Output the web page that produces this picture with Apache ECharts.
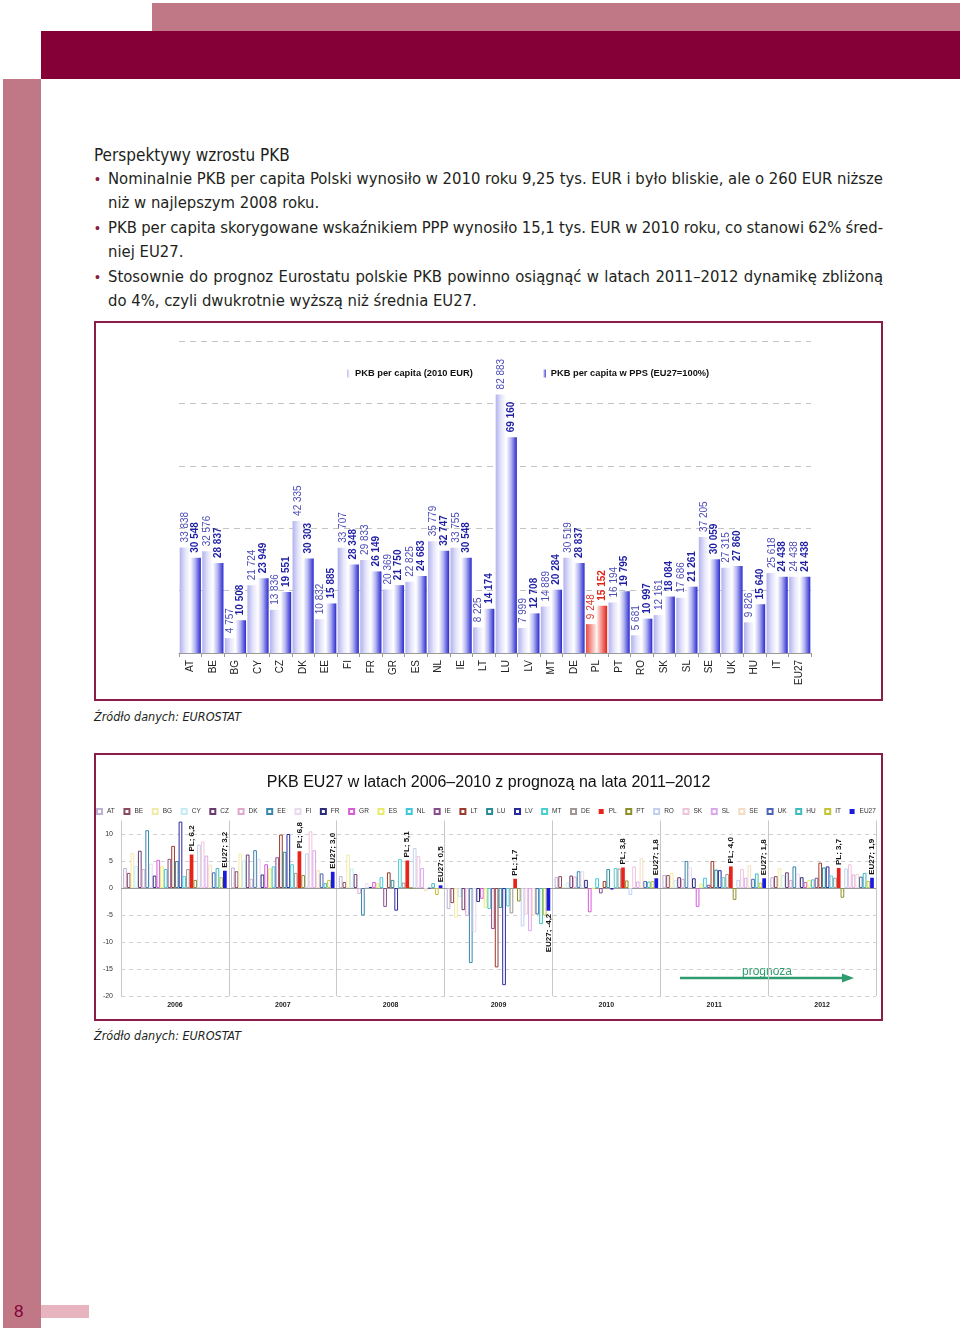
<!DOCTYPE html>
<html>
<head>
<meta charset="utf-8">
<script src="https://cdn.jsdelivr.net/npm/echarts@6/dist/echarts.min.js"></script>
<style>
  html, body { margin: 0; padding: 0; background: #fff; }
  body { position: relative; width: 960px; height: 1330px; overflow: hidden; }
  .blk { position: absolute; }
  .t { position: absolute; font-family: 'DejaVu Sans Condensed', 'Liberation Sans Narrow', sans-serif; color: #231f20; font-size: 16.5px; line-height: 24px; white-space: nowrap; }
  .bul { position: absolute; left: 95px; color: #8c1c3c; font-family: 'Liberation Sans', sans-serif; font-size: 14px; line-height: 24px; }
  .src { position: absolute; left: 94px; font-family: 'DejaVu Sans Condensed', sans-serif; font-style: italic; font-size: 12.5px; line-height: 20px; color: #231f20; }
  .frame { position: absolute; border: 2px solid #8a1c48; box-sizing: border-box; }
</style>
</head>
<body>
<div class="blk" style="left:152px;top:3px;width:808px;height:28px;background:#c07886;"></div>
<div class="blk" style="left:41px;top:31px;width:919px;height:48px;background:#850036;"></div>
<div class="blk" style="left:3px;top:79px;width:38px;height:1249px;background:#c07886;"></div>
<div class="blk" style="left:41px;top:1305px;width:48px;height:13px;background:#e8b4c0;"></div>
<div class="blk" style="left:14px;top:1302px;font-family:'Liberation Sans',sans-serif;font-size:17px;color:#850036;">8</div>

<div class="t" style="left:94px;top:143px;font-size:17px;">Perspektywy wzrostu PKB</div>

<div class="bul" style="top:167px">•</div>
<div class="t j" style="left:108px;top:167px;">Nominalnie PKB per capita Polski wynosiło w 2010 roku 9,25 tys. EUR i było bliskie, ale o 260 EUR niższe</div>
<div class="t" style="left:108px;top:191px;">niż w najlepszym 2008 roku.</div>
<div class="bul" style="top:216px">•</div>
<div class="t j" style="left:108px;top:216px;">PKB per capita skorygowane wskaźnikiem PPP wynosiło 15,1 tys. EUR w 2010 roku, co stanowi 62% śred-</div>
<div class="t" style="left:108px;top:240px;">niej EU27.</div>
<div class="bul" style="top:265px">•</div>
<div class="t j" style="left:108px;top:265px;">Stosownie do prognoz Eurostatu polskie PKB powinno osiągnąć w latach 2011–2012 dynamikę zbliżoną</div>
<div class="t" style="left:108px;top:289px;">do 4%, czyli dwukrotnie wyższą niż średnia EU27.</div>

<div class="frame" style="left:94px;top:321px;width:789px;height:380px;"></div>
<div id="c1" class="blk" style="left:96px;top:323px;width:785px;height:376px;"></div>
<div class="src" style="top:707px;">Źródło danych: EUROSTAT</div>

<div class="frame" style="left:94px;top:753px;width:789px;height:268px;"></div>
<div id="c2" class="blk" style="left:96px;top:755px;width:785px;height:264px;"></div>
<div class="src" style="top:1026px;">Źródło danych: EUROSTAT</div>

<script>
// justify full-width text lines to 775px
document.querySelectorAll('.j').forEach(el => {
  const target = 775;
  const w = el.getBoundingClientRect().width;
  const spaces = (el.textContent.match(/ /g) || []).length;
  if (spaces > 0) el.style.wordSpacing = ((target - w) / spaces) + 'px';
});

// ---------- Chart 1 data ----------
const countries = ['AT','BE','BG','CY','CZ','DK','EE','FI','FR','GR','ES','NL','IE','LT','LU','LV','MT','DE','PL','PT','RO','SK','SL','SE','UK','HU','IT','EU27'];
const gdpEur2010 = [33838, 32576, 4757, 21724, 13836, 42335, 10832, 33707, 29833, 20369, 22825, 35779, 33755, 8225, 82883, 7999, 14889, 30519, 9248, 16194, 5681, 12161, 17686, 37205, 27315, 9826, 25618, 24438];
const gdpPps2010 = [30548, 28837, 10508, 23949, 19551, 30303, 15885, 28348, 26149, 21750, 24683, 32747, 30548, 14174, 69160, 12708, 20284, 28837, 15152, 19795, 10997, 18084, 21261, 30059, 27860, 15640, 24438, 24438];
const seriesNames1 = ['PKB per capita (2010 EUR)', 'PKB per capita w PPS (EU27=100%)'];

// ---------- Chart 2 data (real GDP growth, %) ----------
const years = ['2006','2007','2008','2009','2010','2011','2012'];
const g2006 = [3.7, 2.8, 6.5, 4.1, 6.9, 3.5, 10.7, 4.5, 2.3, 5.2, 4.0, 3.5, 5.4, 7.8, 5.0, 12.3, 2.2, 3.5, 6.2, 1.5, 8.0, 8.6, 6.0, 4.3, 2.9, 3.7, 2.0, 3.2];
const g2007 = [3.8, 3.1, 6.4, 5.1, 6.2, 1.7, 7.0, 5.4, 2.5, 4.4, 3.6, 4.0, 5.7, 9.9, 6.7, 10.0, 4.4, 2.8, 6.8, 2.4, 6.4, 10.5, 7.0, 3.3, 2.7, 0.9, 1.5, 3.0];
const g2008 = [2.2, 1.1, 6.2, 3.6, 2.6, -1.1, -5.1, 0.9, 0.2, 1.1, 0.9, 2.0, -3.5, 2.9, 1.5, -4.2, 5.4, 1.0, 5.1, 0.0, 7.4, 5.9, 3.7, -0.6, -0.1, 0.9, -1.3, 0.5];
const g2009 = [-3.9, -2.8, -5.5, -1.7, -4.1, -5.2, -13.9, -8.2, -2.6, -2.0, -3.7, -3.9, -7.6, -14.7, -3.7, -18.0, -3.4, -4.7, 1.7, -2.5, -7.1, -4.9, -8.0, -5.1, -4.9, -6.7, -5.1, -4.2];
const g2010 = [2.0, 2.2, 0.2, 1.0, 2.3, 2.1, 3.1, 3.1, 1.5, -4.5, -0.1, 1.8, -1.0, 1.3, 3.5, -0.3, 3.7, 3.6, 3.8, 1.4, -1.3, 4.0, 1.2, 5.5, 1.3, 1.2, 1.3, 1.8];
const g2011 = [2.4, 2.4, 2.8, 1.5, 2.0, 1.7, 5.0, 3.8, 1.8, -3.5, 0.8, 1.9, 0.6, 5.0, 3.4, 3.3, 2.0, 2.6, 4.0, -2.2, 1.5, 3.5, 1.9, 4.2, 1.7, 2.7, 1.0, 1.8];
const g2012 = [2.0, 2.2, 3.7, 2.4, 2.9, 1.5, 4.0, 2.6, 2.0, 1.1, 1.5, 1.6, 1.9, 4.7, 3.8, 4.0, 2.3, 1.9, 3.7, -1.8, 3.6, 4.4, 2.5, 2.6, 2.1, 2.8, 1.3, 1.9];
const yTicks2 = [-20, -15, -10, -5, 0, 5, 10];

const colors2 = ['#bfb0d6','#8c4a5c','#f2eaa8','#c4ecf4','#6b3a70','#e0a8cc','#3a86ad','#eadaee','#2c2c7c','#d85ad8','#eaea6a','#40c8dc','#8a4c8c','#9c3a2c','#2a8c98','#2a2aa0','#48d0d0','#a09494','#e8231a','#8e8e2a','#c0d0ee','#eec4dc','#dca8ec','#f4dcc0','#4a64b8','#40bcbc','#c4c434','#1a1ae0'];
const filled2 = ['PL','EU27'];

const FONT = "'Liberation Sans', Arial, sans-serif";
function fmtThousands(v) { return String(v).replace(/\B(?=(\d{3})+(?!\d))/g, ' '); }
function grad(stops) {
  return new echarts.graphic.LinearGradient(0, 0, 1, 0, stops.map(c => ({ offset: c[0], color: c[1] })));
}

// ---------- Chart 1 ----------
const plIdx = countries.indexOf('PL');
const g1 = grad([[0, '#b2b2ee'], [0.55, '#e6e6fb'], [1, '#ffffff']]);
const g2 = grad([[0, '#ffffff'], [0.45, '#b4b4f2'], [1, '#2a2ace']]);
const gp1 = grad([[0, '#e84a40'], [0.6, '#f6b0aa'], [1, '#fff0ee']]);
const gp2 = grad([[0, '#fff2f0'], [0.45, '#f2908a'], [1, '#e02418']]);

const labelBase = { show: true, position: 'top', rotate: 90, align: 'left', verticalAlign: 'middle', distance: 5, fontSize: 10, fontFamily: FONT };

const chart1 = echarts.init(document.getElementById('c1'), null, { renderer: 'canvas' });
chart1.setOption({
  animation: false,
  legend: {
    data: seriesNames1, left: 251, top: 46, padding: 0, icon: 'rect', itemWidth: 3, itemHeight: 8, itemGap: 70,
    selectedMode: false,
    textStyle: { fontSize: 9.3, fontWeight: 'bold', color: '#111', fontFamily: FONT }
  },
  grid: { left: 83, right: 70, top: 18, bottom: 46 },
  xAxis: {
    type: 'category', data: countries,
    axisLine: { lineStyle: { color: '#9a9a9a' } },
    axisTick: { show: true, length: 4, lineStyle: { color: '#9a9a9a' } },
    axisLabel: { rotate: 90, fontSize: 10, color: '#222', margin: 7, fontFamily: FONT, interval: 0 }
  },
  yAxis: {
    type: 'value', min: 0, max: 100000, interval: 20000,
    axisLabel: { show: false }, axisLine: { show: false }, axisTick: { show: false },
    splitLine: { lineStyle: { color: '#c4c4c4', type: [6, 5] } }
  },
  series: [
    {
      name: seriesNames1[0], type: 'bar', barGap: '0%', barCategoryGap: '6%',
      itemStyle: { color: g1 },
      label: Object.assign({}, labelBase, { color: '#4c4cb8', formatter: p => fmtThousands(p.value) }),
      data: gdpEur2010.map((v, i) => i === plIdx ? { value: v, itemStyle: { color: gp1 }, label: { color: '#e0392b' } } : v)
    },
    {
      name: seriesNames1[1], type: 'bar', barGap: '0%', barCategoryGap: '6%',
      itemStyle: { color: g2 },
      label: Object.assign({}, labelBase, { color: '#1f1fa6', fontWeight: 'bold', formatter: p => fmtThousands(p.value) }),
      data: gdpPps2010.map((v, i) => i === plIdx ? { value: v, itemStyle: { color: gp2 }, label: { color: '#e02418' } } : v)
    }
  ]
});

// ---------- Chart 2 ----------
const yearRows = [g2006, g2007, g2008, g2009, g2010, g2011, g2012];
const series2 = countries.map((c, i) => {
  const col = colors2[i];
  const isFilled = filled2.indexOf(c) >= 0;
  const s = {
    name: c, type: 'bar', barGap: '0%', barCategoryGap: '4%',
    itemStyle: isFilled ? { color: col, borderColor: col, borderWidth: 0 } : { color: '#ffffff', borderColor: col, borderWidth: 1 },
    data: yearRows.map(row => {
      const v = row[i];
      if (!isFilled) return v;
      return v < 0 ? { value: v, label: { position: 'bottom', align: 'right' } } : v;
    })
  };
  if (isFilled) {
    s.label = {
      show: true, position: 'top', rotate: 90, align: 'left', verticalAlign: 'middle', distance: 3,
      fontSize: 8, fontWeight: 'bold', color: '#111', fontFamily: FONT,
      formatter: p => c + '; ' + Number(p.value).toFixed(1).replace('.', ',')
    };
  }
  return s;
});
const gridLines = yTicks2.map(v => v === 0
  ? { yAxis: v, lineStyle: { type: 'solid', color: '#9a9a9a', width: 1 } }
  : { yAxis: v });
series2[series2.length - 1].markLine = {
  silent: true, symbol: ['none', 'none'], label: { show: false },
  lineStyle: { type: [4, 4], color: '#cfcfcf', width: 1 },
  data: gridLines, z: 0
};

const chart2 = echarts.init(document.getElementById('c2'), null, { renderer: 'canvas' });
chart2.setOption({
  animation: false,
  color: colors2,
  title: {
    text: 'PKB EU27 w latach 2006–2010 z prognozą na lata 2011–2012',
    left: 'center', top: 15,
    textStyle: { fontSize: 16, fontWeight: 'normal', color: '#111', fontFamily: FONT }
  },
  legend: {
    data: countries.map(c => ({ name: c, icon: 'rect' })),
    left: 0, top: 53, width: 785, padding: 0, itemWidth: 5, itemHeight: 5, itemGap: 8.6, selectedMode: false,
    textStyle: { fontSize: 6.5, color: '#333', fontFamily: FONT }
  },
  grid: { left: 25, right: 5, top: 65.5, bottom: 23 },
  xAxis: {
    type: 'category', data: years,
    axisLine: { show: false }, axisTick: { show: false },
    axisLabel: { fontSize: 7, fontWeight: 'bold', color: '#222', margin: 6, fontFamily: FONT },
    splitLine: { show: true, lineStyle: { color: '#c8c8c8', width: 1 } }
  },
  yAxis: {
    type: 'value', min: -20, max: 12.5, interval: 5,
    axisLine: { show: false }, axisTick: { show: false },
    splitLine: { show: false },
    axisLabel: { fontSize: 7, color: '#333', margin: 8, fontFamily: FONT, formatter: v => (v % 5 === 0 ? String(v) : '') }
  },
  graphic: [
    { type: 'line', shape: { x1: 584, y1: 223, x2: 748, y2: 223 }, style: { stroke: '#2e9c6e', lineWidth: 2.5 }, silent: true },
    { type: 'polygon', shape: { points: [[746, 218.5], [758, 223], [746, 227.5]] }, style: { fill: '#2e9c6e' }, silent: true },
    { type: 'text', x: 646, y: 211, style: { text: 'prognoza', fill: '#2e9c6e', font: "12px 'Liberation Sans', Arial, sans-serif" }, silent: true }
  ],
  series: series2
});
</script>
</body>
</html>
